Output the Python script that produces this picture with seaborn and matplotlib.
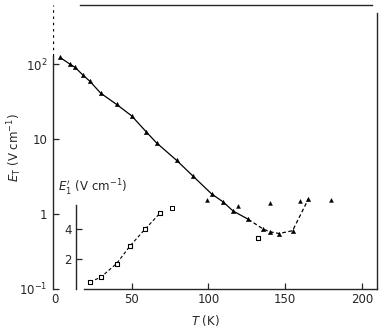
import numpy as np
import pandas as pd
import matplotlib
matplotlib.use("Agg")
import matplotlib.pyplot as plt
import seaborn as sns

# Data
# main curve E_T vs T (filled triangles on the line)
T_main = [3.3, 9.8, 13, 18.4, 22.8, 29.8, 40.2, 50, 59.3, 66.2, 79.3, 90,
          102, 109.6, 116, 126, 135.7, 140, 146, 154.8, 165]
E_main = [123, 100, 91, 71, 59, 41, 29, 20.4, 12.6, 8.9, 5.2, 3.2,
          1.86, 1.45, 1.10, 0.85, 0.63, 0.58, 0.55, 0.60, 1.58]
# scattered points off the curve
T_off = [98.8, 119.4, 140, 159.6, 180]
E_off = [1.55, 1.3, 1.4, 1.5, 1.55]
T_sq = [132.5]
E_sq = [0.48]
# inset E'_1 vs T (open squares)
T_ins = [22.8, 29.8, 40.2, 48.9, 58.6, 68.4]
E_ins = [0.47, 0.78, 1.7, 2.87, 3.98, 5.05]
T_ins_extra = [76]
E_ins_extra = [5.4]

SPLIT_T = 126  # solid line up to here, dashed after

main = pd.DataFrame({"T": T_main, "E": E_main})
solid = main[main["T"] <= SPLIT_T]
dashed = main[main["T"] >= SPLIT_T]
ins = pd.DataFrame({"T": T_ins, "E": E_ins})

sns.set_style("ticks")
plt.rcParams["font.family"] = ["DejaVu Sans"]
plt.rcParams["font.size"] = 8.5

W, H = 382, 331
fig = plt.figure(figsize=(W / 100, H / 100), dpi=100)
ax = fig.add_axes([53 / W, 42 / H, 324 / W, 284 / H])

sns.lineplot(data=solid, x="T", y="E", ax=ax, color="black", lw=0.9)
sns.lineplot(data=dashed, x="T", y="E", ax=ax, color="black", lw=0.9,
             linestyle=(0, (3, 2)))
sns.scatterplot(data=main, x="T", y="E", ax=ax, marker="^", s=10,
                color="black", edgecolor="black", linewidth=0.3)
sns.scatterplot(x=T_off, y=E_off, ax=ax, marker="^", s=8,
                color="black", edgecolor="black", linewidth=0.3)
sns.scatterplot(x=T_sq, y=E_sq, ax=ax, marker="s", s=8,
                facecolor="white", edgecolor="black", linewidth=0.8)

ax.set_yscale("log")
ax.set_xlim(-1.3, 209.8)
ax.set_ylim(0.1, 10 ** 2.79)
ax.set_yticks([0.1, 1, 10, 100])
ax.set_yticklabels(["10$^{-1}$", "1", "10", "10$^{2}$"])
ax.yaxis.set_minor_locator(matplotlib.ticker.NullLocator())
ax.set_xticks([0, 50, 100, 150, 200])
ax.set_xticklabels(["0", "50", "100", "150", "200"])
ax.xaxis.get_major_ticks()[0].tick1line.set_visible(False)
ax.tick_params(direction="in", length=4, width=0.9, pad=3)
ax.tick_params(axis="y", pad=4)

for s in ["left", "right", "top", "bottom"]:
    ax.spines[s].set_linewidth(1.0)
ax.spines["bottom"].set_bounds(19, 209.8)
ax.spines["top"].set_bounds(16.5, 206.5)
ax.spines["right"].set_bounds(0.1, 480)
ax.spines["left"].set_bounds(0.1, 130)
ax.axvline(-1.3, ymin=0.82, ymax=1.0, color="black", lw=0.9, ls=(0, (2, 3)))

ax.set_xlabel("$T$ (K)")
ax.set_ylabel("$E_\\mathrm{T}$ (V cm$^{-1}$)")
ax.xaxis.set_label_coords(0.47, -0.085)
ax.yaxis.set_label_coords(-0.088, 0.5)

# inset
axi = fig.add_axes([76 / W, 42 / H, 301 / W, 84 / H])
axi.patch.set_alpha(0)
sns.lineplot(data=ins, x="T", y="E", ax=axi, color="black", lw=0.8,
             linestyle=(0, (3, 2)))
sns.scatterplot(data=ins, x="T", y="E", ax=axi, marker="s", s=9,
                facecolor="white", edgecolor="black", linewidth=0.8, zorder=3)
sns.scatterplot(x=T_ins_extra, y=E_ins_extra, ax=axi, marker="s", s=6,
                facecolor="white", edgecolor="black", linewidth=0.7, zorder=3)
axi.set_xlim(13.7, 209.8)
axi.set_ylim(0, 5.6)
axi.set_yticks([2, 4])
axi.set_yticklabels(["2", "4"])
axi.set_xticks([])
axi.tick_params(direction="in", length=4, width=0.9, pad=3)
for s in ["right", "top", "bottom"]:
    axi.spines[s].set_visible(False)
axi.spines["left"].set_linewidth(1.0)
axi.set_xlabel("")
axi.set_ylabel("")
fig.text(58 / W, 1 - 188 / H, "$E_1'$ (V cm$^{-1}$)", ha="left", va="center")

fig.savefig("out.png", dpi=100)
